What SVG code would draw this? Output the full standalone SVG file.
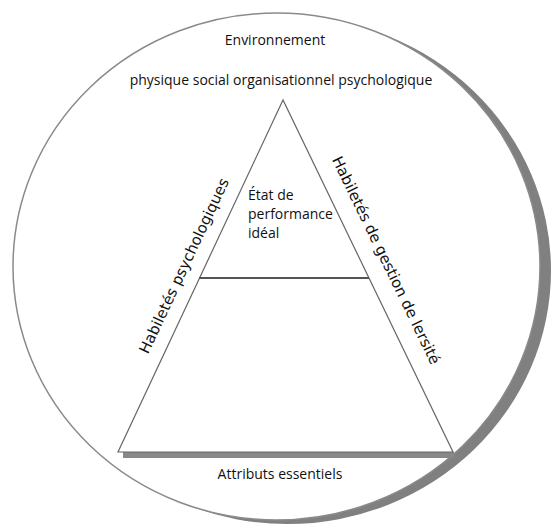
<svg xmlns="http://www.w3.org/2000/svg" width="551" height="525" viewBox="0 0 551 525">
<style>
.t{font-family:"Open Sans","Liberation Sans",sans-serif;font-size:14px;fill:#111111}
.r{font-family:"DejaVu Sans","Liberation Sans",sans-serif;font-size:15px;fill:#111111}
</style>
<rect width="551" height="525" fill="#ffffff"/>
<g id="environment">
<ellipse cx="287.5" cy="270.5" rx="263.5" ry="253.5" fill="#808080"/>
<ellipse cx="276.5" cy="266.5" rx="263.5" ry="253.5" fill="#ffffff" stroke="#8a8a8a" stroke-width="1.5"/>
<text class="t" x="275" y="45" text-anchor="middle">Environnement</text>
<text class="t" x="281" y="85" text-anchor="middle">physique social organisationnel psychologique</text>
</g>
<g id="pyramid">
<rect x="123" y="452" width="331" height="6" fill="#888888"/>
<polygon points="283,100 118,452 453,452" fill="#ffffff" stroke="#666666" stroke-width="1.2"/>
</g>
<g id="connectors">
<line x1="199" y1="278" x2="369" y2="278" stroke="#555555" stroke-width="2"/>
</g>
<g id="ideal">
<text class="t" x="248" y="200">État de</text>
<text class="t" x="248" y="219">performance</text>
<text class="t" x="248" y="238">idéal</text>
</g>
<g id="psych">
<text class="r" text-anchor="middle" transform="translate(188.6,268) rotate(-64.9)">Habiletés psychologiques</text>
</g>
<g id="gestion">
<text class="r" text-anchor="middle" transform="translate(381.5,262.5) rotate(64.2)">Habiletés de gestion de lersité</text>
</g>
<g id="attributs">
<text class="t" x="280" y="479" text-anchor="middle">Attributs essentiels</text>
</g>
</svg>
